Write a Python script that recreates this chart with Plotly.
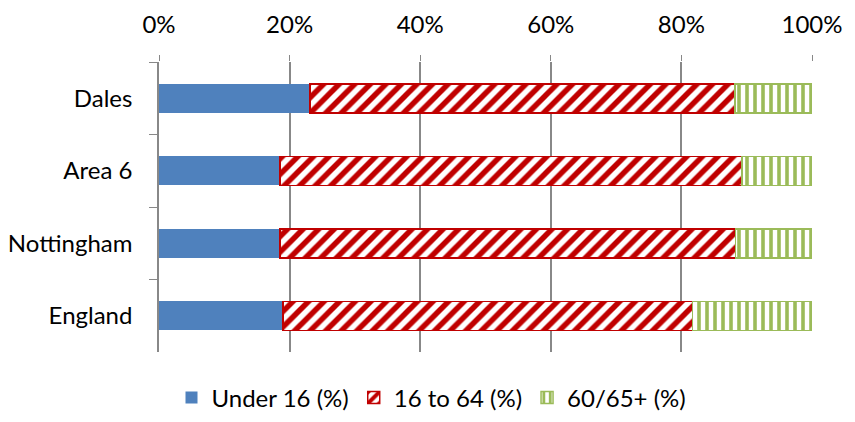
import plotly.graph_objects as go

areas = ["Dales", "Area 6", "Nottingham", "England"]
under16 = [23.1, 18.5, 18.5, 19.0]
age16to64 = [65.1, 70.8, 69.8, 62.7]
age60plus = [11.8, 10.7, 11.7, 18.3]

fig = go.Figure()
fig.add_trace(go.Bar(y=areas, x=under16, name="Under 16 (%)", orientation="h",
                     marker=dict(color="#4F81BD", line=dict(width=0))))
fig.add_trace(go.Bar(y=areas, x=age16to64, name="16 to 64 (%)", orientation="h",
                     marker=dict(color="white", line=dict(color="#C00000", width=1.5),
                                 pattern=dict(shape="/", fgcolor="#C00000", bgcolor="white",
                                              fgopacity=1, size=11, solidity=0.5))))
fig.add_trace(go.Bar(y=areas, x=age60plus, name="60/65+ (%)", orientation="h",
                     marker=dict(color="white", line=dict(color="#9BBB59", width=1.5),
                                 pattern=dict(shape="|", fgcolor="#9BBB59", bgcolor="white",
                                              fgopacity=1, size=8, solidity=0.45))))

# page body has an 8px margin, so the figure is sized/offset to land where the reference is
fig.update_layout(
    barmode="stack",
    bargap=0.6,
    width=847,
    height=414,
    margin=dict(l=151, r=43, t=54, b=70),
    plot_bgcolor="white",
    paper_bgcolor="white",
    font=dict(family="Lato", size=24, color="black"),
    xaxis=dict(side="top", range=[0, 100], tickvals=[0, 20, 40, 60, 80, 100],
               ticktext=["0%", "20%", "40%", "60%", "80%", "100%"],
               showgrid=True, gridcolor="#888888", gridwidth=1.5,
               ticks="outside", ticklen=6, tickcolor="#888888",
               showline=False, zeroline=False, automargin=False,
               ticklabelstandoff=12, tickfont=dict(size=24)),
    yaxis=dict(categoryorder="array", categoryarray=areas, autorange="reversed",
               showline=True, linecolor="#888888", linewidth=1.5,
               ticks="outside", ticklen=8, tickcolor="#888888", tickson="boundaries",
               showgrid=False, automargin=False, ticklabelstandoff=20,
               tickfont=dict(size=24)),
    legend=dict(orientation="h", xref="container", yref="container",
                x=0.5, xanchor="center", y=0.058, yanchor="middle",
                traceorder="normal", font=dict(size=24)),
)

fig.write_html("out.html")
